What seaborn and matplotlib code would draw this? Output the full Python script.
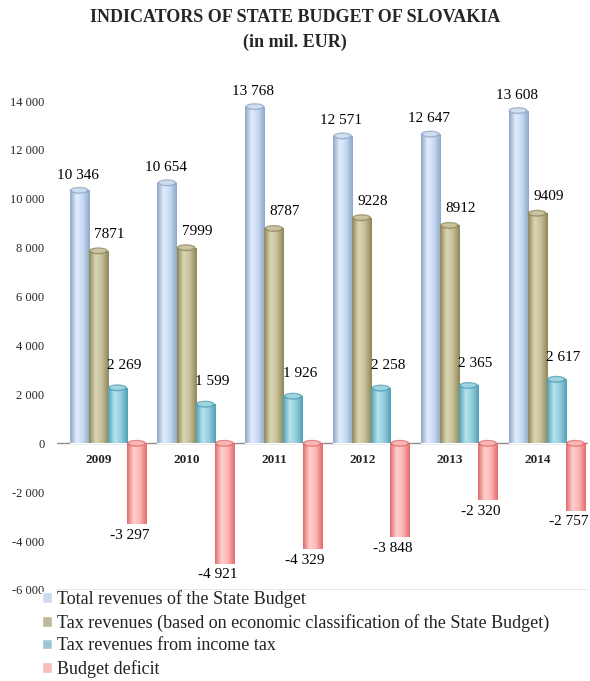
import numpy as np
import pandas as pd
import matplotlib.pyplot as plt
import seaborn as sns
from matplotlib.colors import LinearSegmentedColormap
from matplotlib.patches import Ellipse
from matplotlib.ticker import FuncFormatter

# data (mil. EUR)
years = ['2009', '2010', '2011', '2012', '2013', '2014']
total_revenues = [10346, 10654, 13768, 12571, 12647, 13608]
tax_revenues = [7871, 7999, 8787, 9228, 8912, 9409]
income_tax = [2269, 1599, 1926, 2258, 2365, 2617]
budget_deficit = [-3297, -4921, -4329, -3848, -2320, -2757]

series_names = ['Total revenues of the State Budget',
                'Tax revenues (based on economic classification of the State Budget)',
                'Tax revenues from income tax',
                'Budget deficit']
series_values = [total_revenues, tax_revenues, income_tax, budget_deficit]

df = pd.DataFrame({
    'Year': np.tile(years, len(series_names)),
    'Series': np.repeat(series_names, len(years)),
    'Value': np.concatenate(series_values),
})

# colours: legend colour, dark edge, light highlight
base_colors = ['#c6d9f1', '#c4bd97', '#93cddd', '#ffb3b3']
dark_colors = ['#8ea7c8', '#8f8658', '#4f9fb5', '#e06b6b']
light_colors = ['#e3eefc', '#dcd6b6', '#b8e3ee', '#ffd0d0']

sns.set_style('white')
plt.rcParams['font.family'] = ['Liberation Serif', 'DejaVu Serif']

fig = plt.figure(figsize=(5.9, 6.81), dpi=100)
ax = fig.add_axes([57 / 590, 1 - 590 / 681, 531 / 590, 489 / 681])

sns.barplot(data=df, x='Year', y='Value', hue='Series', palette=base_colors,
            width=0.87, gap=0, errorbar=None, ax=ax, zorder=2)

ylo, yhi = -6000, 14000
ax.set_ylim(ylo, yhi)
ax.set_xlim(-0.58, 5.47)

# cylinder-like shading
px_per_unit = 489 / (yhi - ylo)
grad = np.linspace(0, 1, 64).reshape(1, -1)
for i, cont in enumerate(ax.containers):
    cmap = LinearSegmentedColormap.from_list(
        'c%d' % i, [dark_colors[i], light_colors[i], base_colors[i], dark_colors[i]])
    for bar in cont:
        x0, w = bar.get_x(), bar.get_width()
        y0, h = bar.get_y(), bar.get_height()
        im = ax.imshow(grad, extent=[x0, x0 + w, min(y0, y0 + h), max(y0, y0 + h)],
                       aspect='auto', cmap=cmap, zorder=2.1, interpolation='bicubic')
        im.set_clip_path(bar)
        cap_h = 7 / px_per_unit
        top = max(y0, y0 + h)
        ax.add_patch(Ellipse((x0 + w / 2, top), w, cap_h, facecolor=dark_colors[i],
                             edgecolor='none', alpha=0.8, zorder=2.2))
        ax.add_patch(Ellipse((x0 + w / 2, top), w * 0.8, cap_h * 0.6,
                             facecolor=light_colors[i], edgecolor='none',
                             alpha=0.7, zorder=2.3))

ax.set_ylim(ylo, yhi)
ax.set_xlim(-0.58, 5.47)

# value labels
offsets = [(-1, 11), (8, 12), (5, 16), (-5, -8)]
for i, cont in enumerate(ax.containers):
    for bar, v in zip(cont, series_values[i]):
        if i == 1:
            txt = str(v)
        else:
            txt = f"{v:,}".replace(',', ' ')
        xc = bar.get_x() + bar.get_width() / 2
        ax.annotate(txt, (xc, v), xytext=offsets[i], textcoords='offset points',
                    ha='center', va='center', fontsize=11, color='black',
                    annotation_clip=False, zorder=5)

# axis lines
ax.axhline(0, color='#8c8c8c', lw=1, zorder=1)
ax.axhline(ylo, color='#8c8c8c', lw=1, zorder=1)
for s in ax.spines.values():
    s.set_visible(False)

ax.set_yticks(np.arange(-6000, 14001, 2000))
ax.yaxis.set_major_formatter(FuncFormatter(lambda v, p: f"{v:,.0f}".replace(',', ' ')))
ax.tick_params(axis='y', length=0, pad=9, labelsize=9)
ax.set_xticks([])
ax.set_xlabel('')
ax.set_ylabel('')

# year labels just under the zero line
for k, yr in enumerate(years):
    ax.text(k - 0.1, -700, yr, ha='center', va='center', fontsize=9.5,
            fontweight='bold', zorder=5)

# legend under the chart
handles, labels = ax.get_legend_handles_labels()
ax.legend(handles, labels, loc='upper left', bbox_to_anchor=(42 / 590, 1 - 590 / 681),
          bbox_transform=fig.transFigure, frameon=False, fontsize=13,
          handlelength=0.55, handleheight=0.55, handletextpad=0.3,
          labelspacing=0.32, borderpad=0, borderaxespad=0)
for t in ax.get_legend().get_texts():
    t.set_color('#222222')

fig.text(0.5, 1 - 18 / 681, 'INDICATORS OF STATE BUDGET OF SLOVAKIA', ha='center',
         va='center', fontsize=13, fontweight='bold')
fig.text(0.5, 1 - 42 / 681, '(in mil. EUR)', ha='center', va='center',
         fontsize=13, fontweight='bold')

fig.savefig('out.png', dpi=100)
